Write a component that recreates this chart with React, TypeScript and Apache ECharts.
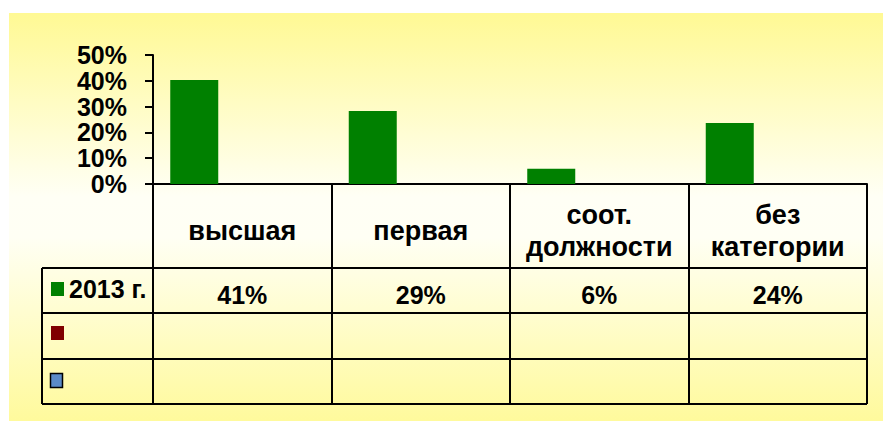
import React, { useEffect, useRef } from "react";
import * as echarts from "echarts";

const categories = ["высшая", "первая", "соот.\nдолжности", "без\nкатегории"];
const series2013Name = "2013 г.";
const values2013 = [0.403, 0.283, 0.059, 0.236];
const tableLabels2013 = ["41%", "29%", "6%", "24%"];
const series2Values = [null, null, null, null];
const series3Values = [null, null, null, null];
const yMin = 0;
const yMax = 0.5;
const yInterval = 0.1;

const W = 883;
const H = 421;
const GRID_LEFT = 153;
const GRID_RIGHT_X = 867;
const GRID_TOP = 55;
const AXIS_Y = 184;
const TABLE_LEFT = 42;
const ROW_LINES = [268, 313, 359, 404];
const FONT = '"Liberation Sans", Arial, sans-serif';

export default function App() {
  const ref = useRef<HTMLDivElement>(null);
  useEffect(() => {
    if (!ref.current) return;
    const chart = echarts.init(ref.current, null, { renderer: "svg" });
    const black = "#000000";
    const hLines = ROW_LINES.map((y) => ({
      type: "line",
      z: 10,
      shape: { x1: TABLE_LEFT, y1: y, x2: GRID_RIGHT_X, y2: y },
      style: { stroke: black, lineWidth: 2 },
    }));
    chart.setOption({
      animation: false,
      backgroundColor: "#ffffff",
      textStyle: { fontFamily: FONT },
      grid: {
        left: GRID_LEFT,
        right: W - GRID_RIGHT_X,
        top: GRID_TOP,
        bottom: H - AXIS_Y,
        containLabel: false,
      },
      legend: {
        data: [series2013Name],
        left: 51,
        top: 271,
        padding: 0,
        orient: "vertical",
        icon: "rect",
        itemWidth: 13,
        itemHeight: 14,
        selectedMode: false,
        textStyle: {
          fontFamily: FONT,
          fontSize: 25,
          fontWeight: "bold",
          color: "#000",
          lineHeight: 28,
          padding: [8, 0, 0, 0],
        },
      },
      xAxis: [
        {
          type: "category",
          data: categories,
          position: "bottom",
          axisLine: { show: true, lineStyle: { color: black, width: 2 } },
          axisTick: {
            show: true,
            length: ROW_LINES[ROW_LINES.length - 1] - AXIS_Y,
            lineStyle: { color: black, width: 2 },
          },
          axisLabel: {
            margin: 47,
            verticalAlign: "middle",
            fontFamily: FONT,
            fontSize: 27,
            fontWeight: "bold",
            lineHeight: 32,
            color: "#000",
            interval: 0,
          },
          splitLine: { show: false },
        },
        {
          type: "category",
          data: tableLabels2013,
          position: "bottom",
          axisLine: { show: false },
          axisTick: { show: false },
          axisLabel: {
            margin: 111,
            verticalAlign: "middle",
            fontFamily: FONT,
            fontSize: 25,
            fontWeight: "bold",
            color: "#000",
            interval: 0,
          },
          splitLine: { show: false },
        },
      ],
      yAxis: {
        type: "value",
        min: yMin,
        max: yMax,
        interval: yInterval,
        axisLine: { show: true, lineStyle: { color: black, width: 2 } },
        axisTick: { show: true, length: 8, lineStyle: { color: black, width: 2 } },
        splitLine: { show: false },
        axisLabel: {
          margin: 26,
          fontFamily: FONT,
          fontSize: 25,
          fontWeight: "bold",
          color: "#000",
          padding: [3, 0, 0, 0],
          formatter: (v: number) => `${Math.round(v * 100)}%`,
        },
      },
      series: [
        {
          name: series2013Name,
          type: "bar",
          data: values2013,
          barWidth: 48,
          barGap: "0%",
          itemStyle: { color: "#008000" },
          z: 5,
        },
        {
          name: "ряд 2",
          type: "bar",
          data: series2Values,
          barWidth: 48,
          barGap: "0%",
          itemStyle: { color: "#800000" },
        },
        {
          name: "ряд 3",
          type: "bar",
          data: series3Values,
          barWidth: 48,
          barGap: "0%",
          itemStyle: { color: "#5B8BC8" },
        },
      ],
      graphic: [
        {
          type: "rect",
          z: -100,
          silent: true,
          shape: { x: 9, y: 13, width: W - 9, height: H - 13 },
          style: {
            fill: new echarts.graphic.LinearGradient(0, 0, 0, 1, [
              { offset: 0, color: "#FFF994" },
              { offset: 0.45, color: "#FFFFF5" },
              { offset: 0.55, color: "#FFFFF4" },
              { offset: 1, color: "#FFFA9C" },
            ]),
          },
        },
        ...hLines,
        {
          type: "line",
          z: 10,
          shape: { x1: TABLE_LEFT, y1: ROW_LINES[0], x2: TABLE_LEFT, y2: ROW_LINES[ROW_LINES.length - 1] },
          style: { stroke: black, lineWidth: 2 },
        },
        {
          type: "rect",
          z: 10,
          shape: { x: 51, y: 326, width: 13, height: 14 },
          style: { fill: "#800000" },
        },
        {
          type: "rect",
          z: 10,
          shape: { x: 50.5, y: 373.5, width: 12, height: 14 },
          style: { fill: "#5B8BC8", stroke: "#000", lineWidth: 1.5 },
        },
      ],
    });
    return () => chart.dispose();
  }, []);
  return (
    <div
      ref={ref}
      style={{ position: "fixed", left: 0, top: 0, width: W, height: H }}
    />
  );
}
